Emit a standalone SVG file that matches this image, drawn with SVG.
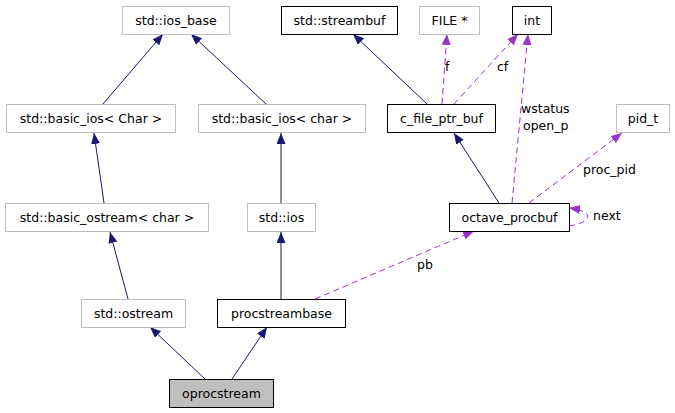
<svg xmlns="http://www.w3.org/2000/svg" width="675" height="413" viewBox="0 0 675 413">
<style>
text{font-family:"DejaVu Sans","Liberation Sans",sans-serif;font-size:12.5px;fill:#000}
.n text{text-anchor:middle}
.u{fill:#fff;stroke:#bfbfbf;stroke-width:1}
.d{fill:#fff;stroke:#000;stroke-width:1}
.c{fill:#bfbfbf;stroke:#000;stroke-width:1}
.inh{stroke:#191970;stroke-width:1;fill:none;marker-end:url(#an)}
.use{stroke:#9a32cd;stroke-width:1;fill:none;stroke-dasharray:6,4;marker-end:url(#ap)}
</style>
<defs>
<marker id="an" markerUnits="userSpaceOnUse" markerWidth="12" markerHeight="10" refX="11" refY="4.5" orient="auto"><path d="M0,0 L11,4.5 L0,9 z" fill="#191970"/></marker>
<marker id="ap" markerUnits="userSpaceOnUse" markerWidth="12" markerHeight="10" refX="11" refY="4.5" orient="auto"><path d="M0,0 L11,4.5 L0,9 z" fill="#9a32cd"/></marker>
</defs>
<rect width="675" height="413" fill="#fff"/>
<g id="edges">
<line class="inh" x1="103" y1="104" x2="163" y2="34"/>
<line class="inh" x1="266" y1="104" x2="191" y2="34"/>
<line class="inh" x1="104" y1="203" x2="94" y2="133"/>
<line class="inh" x1="281" y1="203" x2="281" y2="133"/>
<line class="inh" x1="128" y1="299" x2="110" y2="232"/>
<line class="inh" x1="281" y1="299" x2="281" y2="232"/>
<line class="inh" x1="205" y1="379" x2="150" y2="327"/>
<line class="inh" x1="232" y1="379" x2="267" y2="327"/>
<line class="inh" x1="427" y1="104" x2="353" y2="34"/>
<line class="inh" x1="499" y1="203" x2="454" y2="133"/>
<line class="use" x1="442" y1="104" x2="447" y2="34"/>
<line class="use" x1="454" y1="104" x2="518" y2="34"/>
<line class="use" x1="512" y1="203" x2="528" y2="34"/>
<line class="use" x1="529" y1="203" x2="622" y2="133"/>
<line class="use" x1="315" y1="299" x2="474" y2="231"/>
<path class="use" d="M569,226 C590,223 598,212 569,208"/>
<text x="445" y="71">f</text>
<text x="497" y="71">cf</text>
<text x="521" y="113">wstatus</text>
<text x="523" y="130">open_p</text>
<text x="583" y="174">proc_pid</text>
<text x="593" y="220">next</text>
<text x="417" y="269">pb</text>
</g>
<g id="n_ios_base" class="n"><rect class="u" x="122.5" y="6.5" width="107" height="28"/><text x="176" y="24.5">std::ios_base</text></g>
<g id="n_streambuf" class="n"><rect class="d" x="281.5" y="6.5" width="116" height="28"/><text x="339.5" y="24.5">std::streambuf</text></g>
<g id="n_file" class="n"><rect class="u" x="419.5" y="6.5" width="60" height="28"/><text x="449.5" y="24.5">FILE *</text></g>
<g id="n_int" class="n"><rect class="d" x="512.5" y="6.5" width="39" height="28"/><text x="532" y="24.5">int</text></g>
<g id="n_basic_ios_Char" class="n"><rect class="u" x="6.5" y="104.5" width="169" height="28"/><text x="91" y="122.5">std::basic_ios&lt; Char &gt;</text></g>
<g id="n_basic_ios_char" class="n"><rect class="u" x="198.5" y="104.5" width="167" height="28"/><text x="282" y="122.5">std::basic_ios&lt; char &gt;</text></g>
<g id="n_c_file_ptr_buf" class="n"><rect class="d" x="387.5" y="104.5" width="108" height="28"/><text x="441.5" y="122.5">c_file_ptr_buf</text></g>
<g id="n_pid_t" class="n"><rect class="u" x="616.5" y="104.5" width="53" height="28"/><text x="643" y="122.5">pid_t</text></g>
<g id="n_basic_ostream" class="n"><rect class="u" x="5.5" y="203.5" width="203" height="28"/><text x="107" y="221.5">std::basic_ostream&lt; char &gt;</text></g>
<g id="n_ios" class="n"><rect class="u" x="247.5" y="203.5" width="68" height="28"/><text x="281.5" y="221.5">std::ios</text></g>
<g id="n_octave_procbuf" class="n"><rect class="d" x="449.5" y="203.5" width="120" height="28"/><text x="509.5" y="221.5">octave_procbuf</text></g>
<g id="n_ostream" class="n"><rect class="u" x="81.5" y="299.5" width="104" height="28"/><text x="133.5" y="317.5">std::ostream</text></g>
<g id="n_procstreambase" class="n"><rect class="d" x="217.5" y="299.5" width="128" height="28"/><text x="281.5" y="317.5">procstreambase</text></g>
<g id="n_oprocstream" class="n"><rect class="c" x="169.5" y="379.5" width="104" height="28"/><text x="221.5" y="397.5">oprocstream</text></g>
</svg>
